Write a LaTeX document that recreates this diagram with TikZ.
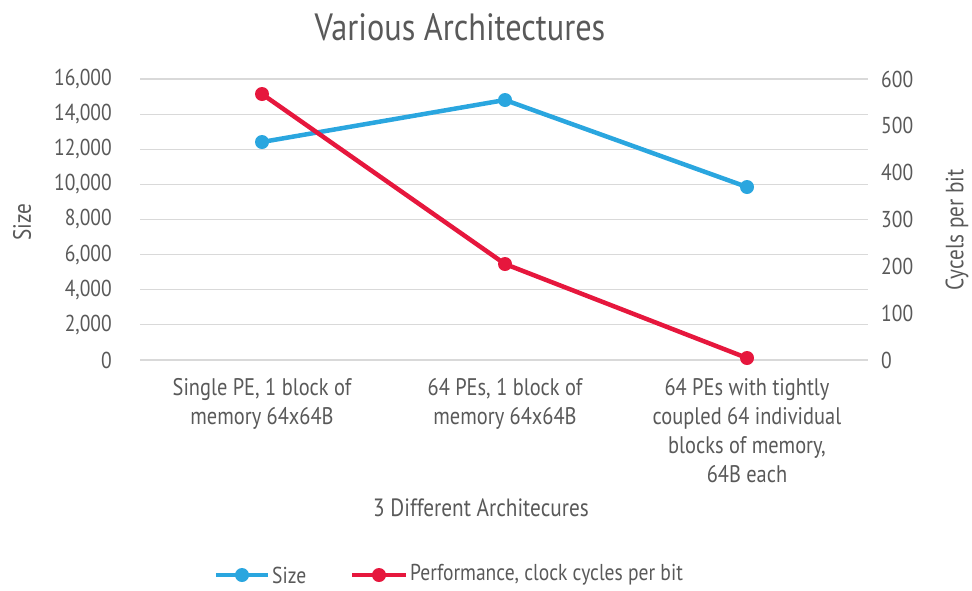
\documentclass[tikz,border=0pt]{standalone}
\usepackage{fontspec}
\setmainfont{PT Sans}[FakeStretch=0.85]
\usepackage{xcolor}
\definecolor{sizeBlue}{HTML}{2AA6DF}
\definecolor{perfRed}{HTML}{E6173D}
\definecolor{txtGray}{HTML}{595959}
\definecolor{gridGray}{HTML}{D9D9D9}
\usetikzlibrary{calc}

\tikzset{
  ticklab/.style={font=\fontsize{23}{26}\selectfont},
  catlab/.style={font=\fontsize{24}{29}\selectfont, align=center, anchor=north},
  axlab/.style={font=\fontsize{25}{28}\selectfont},
  leglab/.style={font=\fontsize{23}{25}\selectfont, anchor=west},
  series/.style={line width=4.5pt, line cap=round, line join=round},
  dot/.style={fill, circle, minimum size=14pt},
}

\begin{document}
\begin{tikzpicture}[x=1pt, y=-1pt, every node/.style={inner sep=0pt, text=txtGray}]
	\useasboundingbox (0,0) rectangle (972,590);
	% grid and tick labels
	\foreach \i/\lab in {0/0, 1/{2,000}, 2/{4,000}, 3/{6,000}, 4/{8,000}, 5/{10,000}, 6/{12,000}, 7/{14,000}, 8/{16,000}}{
		\draw[gridGray, line width=1.2pt] (140, {360-35.125*\i}) -- (868, {360-35.125*\i});
		\node[ticklab, anchor=east] at (112, {360-35.125*\i}) {\lab};
	}
	\foreach \i/\rlab in {0/0, 1/100, 2/200, 3/300, 4/400, 5/500, 6/600}{
		\node[ticklab, anchor=west] at (881, {360-46.833*\i}) {\rlab};
	}
	% titles
	\node[font=\fontsize{38}{42}\selectfont] (title) at (460, 27) {Various Architectures};
	\node[axlab, rotate=90] (ylab) at (22, 222) {Size};
	\node[axlab, rotate=90] (y2lab) at (957, 230) {Cycels per bit};
	\node[axlab] (xlab) at (481, 508) {3 Different Architecures};
	% categories
	\node[catlab] (c1) at (262, 378) {Single PE, 1 block of\\memory 64x64B};
	\node[catlab] (c2) at (505, 378) {64 PEs, 1 block of\\memory 64x64B};
	\node[catlab] (c3) at (747, 378) {64 PEs with tightly\\coupled 64 individual\\blocks of memory,\\64B each};
	% data
	\coordinate (s1) at (262, 142);
	\coordinate (s2) at (505, 100);
	\coordinate (s3) at (747, 187);
	\coordinate (p1) at (262, 94);
	\coordinate (p2) at (505, 264);
	\coordinate (p3) at (747, 358);
	\draw[series, sizeBlue] (s1) -- (s2) -- (s3);
	\draw[series, perfRed] (p1) -- (p2) -- (p3);
	\foreach \c in {s1, s2, s3}{ \node[dot, sizeBlue] at (\c) {}; }
	\foreach \c in {p1, p2, p3}{ \node[dot, perfRed] at (\c) {}; }
	% legend
	\coordinate (la) at (216, 575);
	\coordinate (lb) at (268, 575);
	\draw[series, sizeBlue, line cap=butt] (la) -- (lb);
	\node[dot, sizeBlue] at ($(la)!0.5!(lb)$) {};
	\node[leglab] (lsize) at (272, 575) {Size};
	\coordinate (lc) at (352, 575);
	\coordinate (ld) at (406, 575);
	\draw[series, perfRed, line cap=butt] (lc) -- (ld);
	\node[dot, perfRed] at ($(lc)!0.5!(ld)$) {};
	\node[leglab] (lperf) at (410, 575) {Performance, clock cycles per bit};
\end{tikzpicture}
\end{document}
